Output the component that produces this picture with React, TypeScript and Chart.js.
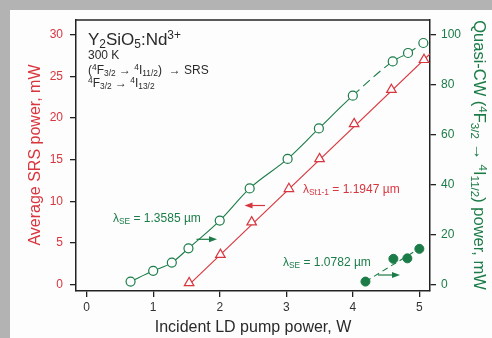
import React, { useEffect, useRef } from "react";
import { Chart, registerables } from "chart.js";
Chart.register(...registerables);

// ---- data ----
const openPumpW = [0.66, 1.0, 1.28, 1.53, 2.0, 2.45, 3.02, 3.49, 4.0, 4.6, 4.83, 5.06];
const openPowerMW = [1.2, 5.5, 8.8, 14.5, 25.6, 38.5, 50.3, 62.5, 75.6, 89.3, 92.7, 96.7];
const srsPumpW = [1.54, 2.01, 2.48, 3.04, 3.5, 4.02, 4.58, 5.07];
const srsPowerMW = [0.2, 3.6, 7.5, 11.5, 15.1, 19.3, 23.4, 27.0];
const srsFitX = [1.54, 5.16];
const srsFitY = [0.0, 27.7];
const filledPumpW = [4.19, 4.61, 4.82, 5.0];
const filledPowerMW = [1.2, 10.3, 10.5, 14.3];
const filledFitX = [4.19, 5.06];
const filledFitY = [1.2, 15.4];
const dashedFromW = 4.0;
const xTicks = [0, 1, 2, 3, 4, 5];
const leftTicks = [0, 5, 10, 15, 20, 25, 30];
const rightTicks = [0, 20, 40, 60, 80, 100];

const RED = "#d8363f";
const GREEN = "#1b7c48";
const DARK = "#2a2a2a";
const FONT = "'Liberation Sans', Arial, Helvetica, sans-serif";
const W = 492;
const H = 338;

type Seg = [string, number]; // 0 normal, 1 sub, 2 sup

function segFont(size: number, kind: number) {
  const s = kind === 0 ? size : size * 0.7;
  return `${s}px ${FONT}`;
}
function richWidth(ctx: CanvasRenderingContext2D, segs: Seg[], size: number) {
  let w = 0;
  for (const [t, k] of segs) {
    ctx.font = segFont(size, k);
    w += ctx.measureText(t).width;
  }
  return w;
}
function drawRich(
  ctx: CanvasRenderingContext2D,
  segs: Seg[],
  x: number,
  y: number,
  size: number,
  color: string,
  align: "left" | "center" = "left"
) {
  ctx.save();
  ctx.fillStyle = color;
  ctx.textBaseline = "alphabetic";
  ctx.textAlign = "left";
  let cx = align === "center" ? x - richWidth(ctx, segs, size) / 2 : x;
  for (const [t, k] of segs) {
    ctx.font = segFont(size, k);
    const dy = k === 1 ? size * 0.2 : k === 2 ? -size * 0.33 : 0;
    ctx.fillText(t, cx, y + dy);
    cx += ctx.measureText(t).width;
  }
  ctx.restore();
}
function arrow(ctx: CanvasRenderingContext2D, x1: number, y1: number, x2: number, y2: number, color: string) {
  const dir = Math.sign(x2 - x1);
  ctx.save();
  ctx.strokeStyle = color;
  ctx.fillStyle = color;
  ctx.lineWidth = 1.2;
  ctx.beginPath();
  ctx.moveTo(x1, y1);
  ctx.lineTo(x2 - dir * 6, y2);
  ctx.stroke();
  ctx.beginPath();
  ctx.moveTo(x2, y2);
  ctx.lineTo(x2 - dir * 8, y2 - 3);
  ctx.lineTo(x2 - dir * 8, y2 + 3);
  ctx.closePath();
  ctx.fill();
  ctx.restore();
}

const decor = {
  id: "decor",
  beforeDraw(chart: any) {
    const ctx = chart.ctx as CanvasRenderingContext2D;
    ctx.save();
    ctx.fillStyle = "#b3b3b3";
    ctx.fillRect(0, 0, W, H);
    ctx.fillStyle = "#fdfdfd";
    ctx.fillRect(10, 10, W - 10, H - 10);
    ctx.restore();
  },
  afterDraw(chart: any) {
    const ctx = chart.ctx as CanvasRenderingContext2D;
    const a = chart.chartArea;
    ctx.save();
    ctx.strokeStyle = "#222";
    ctx.lineWidth = 1.5;
    ctx.beginPath();
    ctx.moveTo(a.left, a.top);
    ctx.lineTo(a.right, a.top);
    ctx.stroke();
    ctx.restore();

    // top-left text block
    drawRich(ctx, [["Y", 0], ["2", 1], ["SiO", 0], ["5", 1], [":Nd", 0], ["3+", 2]], 88, 45, 17, DARK);
    drawRich(ctx, [["300 K", 0]], 88, 58.5, 12, DARK);
    drawRich(
      ctx,
      [["(", 0], ["4", 2], ["F", 0], ["3/2", 1], [" \u2192 ", 0], ["4", 2], ["I", 0], ["11/2", 1], [")  \u2192 SRS", 0]],
      88, 74, 12, DARK
    );
    drawRich(ctx, [["4", 2], ["F", 0], ["3/2", 1], [" \u2192 ", 0], ["4", 2], ["I", 0], ["13/2", 1]], 88, 87, 12, DARK);

    // annotations
    drawRich(ctx, [["\u03bb", 0], ["SE", 1], [" = 1.3585 \u00b5m", 0]], 113, 221.5, 12, GREEN);
    drawRich(ctx, [["\u03bb", 0], ["St1-1", 1], [" = 1.1947 \u00b5m", 0]], 303, 193, 12, RED);
    drawRich(ctx, [["\u03bb", 0], ["SE", 1], [" = 1.0782 \u00b5m", 0]], 283, 265.5, 12, GREEN);
    arrow(ctx, 196.5, 239.3, 217, 239.3, GREEN);
    arrow(ctx, 265, 205.5, 244.5, 205.5, RED);
    arrow(ctx, 378, 275, 400, 275, GREEN);

    // axis titles
    drawRich(ctx, [["Incident LD pump power, W", 0]], 253, 332, 16, DARK, "center");
    ctx.save();
    ctx.translate(40, 155);
    ctx.rotate(-Math.PI / 2);
    drawRich(ctx, [["Average SRS power, mW", 0]], 0, 0, 16, RED, "center");
    ctx.restore();
    ctx.save();
    ctx.translate(474, 155);
    ctx.rotate(Math.PI / 2);
    drawRich(
      ctx,
      [["Quasi-CW (", 0], ["4", 2], ["F", 0], ["3/2", 1], [" \u2192 ", 0], ["4", 2], ["I", 0], ["11/2", 1], [") power, mW", 0]],
      0, 0, 16.5, GREEN, "center"
    );
    ctx.restore();
  },
};

function pts(xs: number[], ys: number[]) {
  return xs.map((x, i) => ({ x, y: ys[i] }));
}

export default function App() {
  const ref = useRef<HTMLCanvasElement>(null);
  useEffect(() => {
    document.body.style.margin = "0";
    const grid = { drawOnChartArea: false, drawTicks: true, tickLength: 6, color: "#222", lineWidth: 1.3 };
    const border = { display: true, color: "#222", width: 1.5 };
    const chart = new Chart(ref.current!, {
      type: "scatter",
      data: {
        datasets: [
          {
            data: pts(openPumpW, openPowerMW),
            yAxisID: "y1",
            showLine: true,
            borderColor: GREEN,
            borderWidth: 1.1,
            cubicInterpolationMode: "monotone",
            pointStyle: "circle",
            pointRadius: 4.5,
            pointBorderWidth: 1.2,
            pointBackgroundColor: "#fdfdfd",
            pointBorderColor: GREEN,
            segment: {
              borderDash: (c: any) => (c.p0.parsed.x >= dashedFromW - 0.01 ? [9, 5] : undefined),
            },
            order: 1,
          } as any,
          {
            data: pts(srsFitX, srsFitY),
            yAxisID: "y",
            showLine: true,
            borderColor: RED,
            borderWidth: 1.1,
            pointRadius: 0,
            order: 3,
          },
          {
            data: pts(srsPumpW, srsPowerMW),
            yAxisID: "y",
            showLine: false,
            pointStyle: "triangle",
            pointRadius: 5.5,
            pointBorderWidth: 1.2,
            pointBackgroundColor: "#fdfdfd",
            pointBorderColor: RED,
            order: 1,
          },
          {
            data: pts(filledFitX, filledFitY),
            yAxisID: "y1",
            showLine: true,
            borderColor: GREEN,
            borderWidth: 1.1,
            borderDash: [6, 4],
            pointRadius: 0,
            order: 3,
          },
          {
            data: pts(filledPumpW, filledPowerMW),
            yAxisID: "y1",
            showLine: false,
            pointStyle: "circle",
            pointRadius: 4.5,
            pointBorderWidth: 1,
            pointBackgroundColor: GREEN,
            pointBorderColor: GREEN,
            order: 1,
          },
        ],
      },
      options: {
        animation: false,
        responsive: false,
        devicePixelRatio: 1,
        layout: { padding: { top: 20, left: 0, right: 0, bottom: 0 } },
        plugins: { legend: { display: false }, tooltip: { enabled: false } },
        scales: {
          x: {
            type: "linear",
            position: "bottom",
            min: -0.16,
            max: 5.16,
            afterBuildTicks: (s: any) => { s.ticks = xTicks.map((v) => ({ value: v })); },
            afterFit: (s: any) => { s.height = 47; },
            grid,
            border,
            ticks: { font: { family: FONT, size: 12 }, color: "#333", padding: 3, maxRotation: 0 },
          },
          y: {
            type: "linear",
            position: "left",
            min: -0.77,
            max: 31.77,
            afterBuildTicks: (s: any) => { s.ticks = leftTicks.map((v) => ({ value: v })); },
            afterFit: (s: any) => { s.width = 76; },
            grid,
            border,
            ticks: { font: { family: FONT, size: 12 }, color: RED, padding: 7 },
          },
          y1: {
            type: "linear",
            position: "right",
            min: -2.57,
            max: 105.9,
            afterBuildTicks: (s: any) => { s.ticks = rightTicks.map((v) => ({ value: v })); },
            afterFit: (s: any) => { s.width = 62; },
            grid,
            border,
            ticks: { font: { family: FONT, size: 12 }, color: GREEN, padding: 5 },
          },
        },
      } as any,
      plugins: [decor],
    });
    return () => chart.destroy();
  }, []);
  return (
    <div style={{ position: "fixed", left: 0, top: 0, width: W, height: H, overflow: "hidden", background: "#fdfdfd" }}>
      <canvas ref={ref} width={W} height={H} style={{ display: "block", width: W, height: H }} />
    </div>
  );
}
